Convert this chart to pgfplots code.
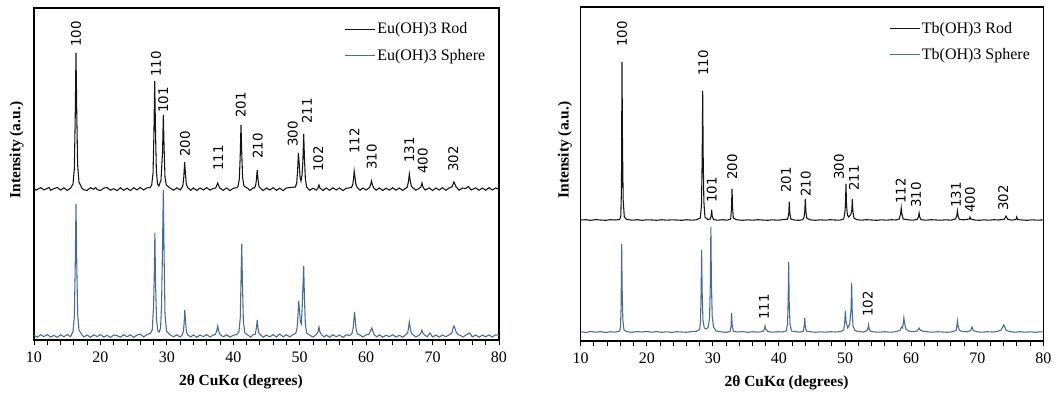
\documentclass[border=0pt]{standalone}
\usepackage{pgfplots}
\pgfplotsset{compat=1.18}
\usepackage{pgfplotstable}
\usepackage{fontspec}
\setmainfont{Liberation Serif}
\newfontfamily\lblfont{DejaVu Sans}
\definecolor{rodc}{RGB}{20,20,20}
\definecolor{sphc}{RGB}{68,106,160}

\pgfplotstableread{
x y
10.0 0.8
10.3 -1.2
10.5 -0.5
11.0 1.4
11.5 -0.9
12.0 0.6
12.3 1.5
12.5 -1.3
13.0 0.3
13.5 1.6
14.0 -1.1
14.5 1.2
15.0 -1.4
15.5 0.9
15.87 5
16.07 20
16.20 68
16.32 136
16.44 75
16.57 24
16.77 7
17.2 1.0
17.5 -0.8
18.0 -1.4
18.5 1.3
19.0 -0.2
19.3 1.5
19.5 -0.6
20.0 -1.5
20.5 0.9
21.0 1.4
21.5 -1.2
22.0 0.3
22.5 -1.6
23.0 1.2
23.5 -1.3
24.0 0.8
24.5 -1.6
25.0 1.2
25.5 -0.9
26.0 1.5
26.5 -1.0
27.0 1.1
27.5 1.6
27.72 4
27.92 16
28.05 54
28.17 108
28.29 58
28.42 18
28.6 5
28.8 3
29.12 9
29.35 37
29.47 74
29.59 40
29.72 12
29.92 4
30.4 1.4
31.0 -1.2
31.5 1.2
32.0 -1.0
32.23 1
32.43 4
32.56 13
32.68 27
32.8 15
32.93 5
33.13 1.5
33.6 -1.3
34.0 1.1
34.5 -1.5
35.0 1.0
35.5 -1.0
36.0 1.4
36.5 -1.2
37.0 0.6
37.35 1
37.65 6
37.95 1
38.5 -1.3
39.0 1.1
39.5 -1.6
40.0 0.8
40.5 1.2
40.71 2.5
40.91 10
41.04 32
41.16 64
41.28 35
41.41 11
41.61 3
42.1 1.0
42.5 -1.4
43.0 1.0
43.15 1
43.35 3
43.48 9
43.6 19
43.72 10
43.85 3
44.05 1
44.5 -1.5
45.0 1.0
45.5 -1.0
46.0 1.3
46.5 -1.3
47.0 0.8
47.5 -1.6
48.0 1.1
48.5 1.4
49.35 2
49.55 6
49.68 18
49.8 36
49.92 26
50.05 12
50.2 8
50.35 14
50.48 28
50.6 55
50.72 30
50.85 10
51.05 2
51.5 -1.4
52.0 0.8
52.5 -1.1
52.75 1
52.9 4
53.05 1
53.5 -1.5
54.0 1.0
54.5 -1.3
55.0 1.2
55.5 -1.0
56.0 1.1
56.5 -1.6
57.0 0.7
57.5 1.2
57.8 1.5
58.0 5
58.1 10
58.2 18
58.32 12
58.45 5
58.65 1.5
59.1 -1.2
59.5 1.0
60.0 -1.0
60.4 0.9
60.55 2
60.7 5
60.8 8
60.92 5
61.1 1.5
61.5 -1.3
62.0 1.1
62.5 -1.5
63.0 0.8
63.5 -1.1
64.0 1.2
64.5 -1.2
65.0 1.0
65.5 -1.4
66.0 1.0
66.2 2
66.38 8
66.5 15
66.62 9
66.8 3
67.05 1
67.5 -1.2
68.0 0.8
68.25 2
68.4 6
68.55 2
68.9 -1.1
69.5 1.1
70.0 -1.5
70.5 1.0
71.0 -1.0
71.5 1.3
72.0 -1.3
72.5 1.0
72.9 2
73.05 4
73.2 7
73.35 5
73.55 2
74.0 -1.2
74.5 1.0
75.0 0.5
75.4 2.5
75.8 -1.0
76.5 1.1
77.0 -1.3
77.5 1.0
78.0 -1.2
78.5 1.3
79.0 -1.0
79.5 1.1
80.0 -0.5
}\EuRod

\pgfplotstableread{
x y
10.0 0.8
10.5 -1.2
11.0 1.3
11.5 -0.6
12.0 1.5
12.5 -1.1
13.0 0.6
13.5 -1.4
14.0 1.2
14.5 -0.8
15.0 1.4
15.5 -0.7
15.87 4.5
16.07 19
16.2 66
16.32 132
16.44 72
16.57 22
16.77 6
17.2 1.4
17.5 -0.9
18.0 1.0
18.5 -1.3
19.0 1.2
19.5 -0.6
20.0 1.5
20.5 -1.1
21.0 0.7
21.5 -1.5
22.0 1.0
22.5 0.4
23.0 -1.2
23.5 1.3
24.0 -0.8
24.5 1.2
25.0 -1.4
25.5 0.9
26.0 1.8
26.5 -0.9
27.0 1.4
27.5 2.5
27.8 6
28.0 30
28.1 60
28.2 103
28.3 52
28.45 16
28.65 5
28.85 4
29.05 8
29.2 30
29.35 90
29.47 146
29.59 78
29.72 22
29.95 5
30.4 1.6
31.0 -0.8
31.5 1.2
32.0 -1.0
32.3 1
32.5 5
32.6 13
32.7 26
32.82 14
32.95 4
33.15 1
33.6 -0.9
34.0 1.2
34.5 -1.3
35.0 0.9
35.5 -0.6
36.0 1.4
36.5 -1.0
37.0 1.0
37.3 1.5
37.5 5
37.65 10
37.8 5
38.0 1.5
38.5 -0.8
39.0 1.2
39.5 -1.2
40.0 0.8
40.5 1.4
40.85 4
41.05 18
41.15 50
41.27 92
41.39 50
41.52 14
41.75 3
42.2 1.0
42.6 -1.2
43.0 1.3
43.3 1.5
43.48 8
43.6 16
43.72 8
43.9 2
44.2 0.6
44.5 -1.3
45.0 1.0
45.5 -0.9
46.0 1.4
46.5 -1.0
47.0 2.0
47.5 -0.8
48.0 1.2
48.5 -0.9
49.0 1.4
49.4 2.5
49.6 8
49.73 20
49.85 35
49.97 25
50.1 14
50.25 12
50.38 30
50.48 48
50.6 70
50.72 36
50.85 12
51.05 3
51.5 0.9
52.0 -1.0
52.5 1.4
52.75 4
52.9 9
53.05 4
53.3 1.2
53.7 -0.9
54.0 1.0
54.5 -1.3
55.0 1.2
55.5 -0.7
56.0 0.9
56.5 -1.4
57.0 1.2
57.5 0.6
57.85 2
58.05 8
58.15 16
58.25 24
58.37 16
58.5 6
58.7 2
59.1 0.9
59.5 -1.0
60.0 1.2
60.4 1.5
60.65 5
60.85 8
61.0 5
61.2 1.5
61.6 -0.9
62.0 1.2
62.5 -1.2
63.0 0.8
63.5 -0.7
64.0 1.3
64.5 -1.0
65.0 0.7
65.5 -1.2
66.0 1.4
66.25 3
66.38 8
66.5 14
66.62 9
66.8 3
67.1 1
67.5 -0.9
68.0 1.0
68.25 3
68.4 6
68.55 3
68.8 1.0
69.2 -0.7
69.6 3
70.0 -1.0
70.5 0.9
71.0 -1.2
71.5 1.0
72.0 -0.7
72.5 1.2
72.9 3
73.05 7
73.2 10
73.35 8
73.55 4
73.8 1.5
74.2 0.6
74.6 -1.0
75.0 0.9
75.6 3
76.0 -0.9
76.5 1.0
77.0 -1.2
77.5 0.9
78.0 -0.7
78.5 1.0
79.0 -1.0
79.5 1.2
80.0 0.4
}\EuSph

\pgfplotstableread{
x y
10.0 0
10.8 0.3
11.5 -0.3
12.3 0.4
13.0 0
13.8 -0.3
14.5 0.3
15.2 0
15.9 0.5
16.07 4
16.17 30
16.25 158
16.33 75
16.43 20
16.6 3
17.0 0.5
17.8 -0.2
18.5 0.3
19.3 -0.3
20.0 0.2
20.8 0
21.5 -0.3
22.3 0.3
23.0 -0.2
23.8 0.2
24.5 0
25.3 -0.3
26.0 0.3
26.8 -0.2
27.5 0.2
28.1 2
28.28 15
28.38 60
28.46 129
28.54 62
28.64 18
28.8 3
29.2 0.5
29.6 1
29.74 4
29.82 10
29.9 4
30.1 0.5
30.7 -0.2
31.5 0.3
32.2 -0.2
32.7 1
32.82 12
32.9 31
32.98 13
33.1 2
33.6 0.2
34.5 -0.3
35.3 0.2
36.0 -0.2
36.8 0.3
37.5 0
38.3 -0.3
39.0 0.2
39.8 -0.2
40.5 0.3
41.3 0.8
41.48 6
41.56 18
41.64 7
41.8 1
42.3 0
43.0 -0.3
43.6 0.3
43.8 3
43.91 9
43.99 21
44.07 9
44.2 2
44.7 0.2
45.5 -0.3
46.2 0.2
47.0 -0.2
47.7 0.3
48.5 0
49.2 -0.2
49.8 1
49.98 8
50.06 16
50.14 36
50.22 15
50.35 5
50.55 3
50.9 6
51.02 10
51.1 21
51.18 9
51.35 2
51.8 0.3
52.5 -0.2
53.2 0.3
54.0 0
54.8 -0.3
55.5 0.2
56.3 -0.2
57.0 0.3
57.7 0
58.2 1
58.4 6
58.5 12
58.6 6
58.8 1
59.4 0.3
60.2 -0.2
60.9 0.5
61.1 3
61.2 7
61.3 3
61.5 0.3
62.3 -0.2
63.0 0.3
63.8 0
64.5 -0.2
65.3 0.2
66.0 -0.2
66.7 1
66.9 4
67.0 9
67.1 4
67.3 0.5
68.0 0.2
68.8 1
68.9 3
69.0 1
69.6 0
70.3 -0.3
71.0 0.2
71.8 -0.2
72.5 0.3
73.3 0
74.1 0.8
74.35 4
74.6 0.8
75.2 -0.2
75.85 0.5
75.97 3
76.1 0.5
76.8 0
77.5 -0.3
78.3 0.2
79.0 -0.2
80.0 0.1
}\TbRod

\pgfplotstableread{
x y
10.0 0.2
10.8 -0.4
11.5 0.5
12.3 -0.2
13.0 0.4
13.8 -0.5
14.5 0.3
15.2 -0.2
15.9 1
16.02 5
16.12 25
16.2 88
16.28 42
16.38 12
16.55 2
17.0 0.3
17.8 -0.3
18.5 0.4
19.3 0
20.0 0.5
20.8 -0.2
21.5 0.4
22.3 -0.3
23.0 0.2
23.8 -0.4
24.5 0.3
25.3 0
26.0 -0.3
26.8 0.4
27.5 0.6
28.0 2.5
28.13 10
28.22 40
28.3 82
28.38 40
28.5 12
28.7 4
29.0 3
29.3 5
29.5 14
29.62 50
29.7 105
29.78 50
29.9 16
30.1 5
30.5 1
31.2 0.2
32.0 -0.3
32.6 0.5
32.76 6
32.84 19
32.92 7
33.1 0.5
33.8 0
34.5 0.4
35.3 -0.3
36.0 0.3
36.8 -0.2
37.6 0.6
37.8 3
37.9 6
38.0 3
38.3 0.5
39.0 -0.2
39.8 0.3
40.5 0
41.1 1
41.3 8
41.39 30
41.47 70
41.55 30
41.67 8
41.9 1
42.5 0.3
43.2 -0.2
43.7 0.8
43.82 6
43.9 14
43.98 6
44.15 0.8
44.8 0.3
45.5 -0.3
46.3 0.2
47.0 -0.2
47.8 0.3
48.5 0
49.3 0.4
49.8 2
49.95 10
50.05 21
50.15 10
50.4 4
50.7 8
50.9 22
51.0 49
51.08 22
51.2 6
51.5 1.5
52.0 0.5
52.8 0
53.35 1.5
53.48 4
53.55 7
53.65 3
53.9 0.5
54.6 0
55.3 -0.2
56.0 0.3
56.8 -0.2
57.6 0.2
58.3 1.5
58.55 5
58.7 4
58.82 9
58.9 14
59.0 9
59.2 3
59.6 1
60.2 0.3
60.9 1
61.1 3
61.2 4
61.35 2
61.8 0.8
62.5 0.2
63.3 -0.2
64.0 0.3
64.8 0
65.5 -0.3
66.2 0.3
66.8 1.5
66.92 6
67.0 11
67.1 6
67.3 1.5
67.8 0.5
68.5 0.2
69.0 1.5
69.2 5
69.4 1.5
70.0 0.2
70.8 -0.2
71.5 0.3
72.3 0
73.0 0.4
73.6 2
73.85 5
74.0 7
74.15 5
74.4 1.5
75.0 0.3
75.8 -0.2
76.5 0.3
77.3 -0.2
78.0 0.2
78.8 -0.3
79.5 0.2
80.0 0
}\TbSph

\tikzset{hkl/.style={rotate=90, anchor=west, inner sep=0pt,
      font=\lblfont\fontsize{10}{12}\selectfont}}

\pgfplotsset{
  xrdaxis/.style={
    scale only axis,
    anchor=south west,
    xmin=10, xmax=80, ymin=0,
    xtick={10,20,...,80},
    minor x tick num=4,
    ytick=\empty,
    xtick pos=bottom,
    tick align=outside,
    major tick length=4pt,
    minor tick length=4pt,
    every tick/.style={black, line width=0.7pt},
    axis line style={line width=1.1pt},
    /pgf/number format/assume math mode=true,
    xticklabel style={font=\fontsize{12}{14}\selectfont, yshift=-1.5pt},
    xlabel={\textbf{2θ CuKα (degrees)}},
    ylabel={\textbf{Intensity (a.u.)}},
    label style={font=\fontsize{11.6}{13}\selectfont},
    legend cell align=left,
    legend style={draw=none, fill=none, inner sep=0pt,
      font=\fontsize{12}{14}\selectfont, row sep=8pt,
      nodes={inner sep=1pt}},
    legend image code/.code={\draw[#1] (0pt,0pt) -- (22.5pt,0pt);},
  }
}

\begin{document}
\begin{tikzpicture}
\path[use as bounding box] (0pt,0pt) rectangle (792pt,-300pt);
% ---------------- left panel ----------------
\begin{axis}[xrdaxis,
  at={(25.5pt,-255pt)}, width=348.75pt, height=249pt, ymax=332,
  xlabel style={at={(axis description cs:0.445,-0.126)}, anchor=center},
  ylabel style={at={(axis description cs:-0.037,0.572)}, anchor=center},
  legend style={at={(axis description cs:0.668,0.96)}, anchor=north west}]
\addplot[rodc, line width=0.8pt] table[x=x, y expr=\thisrow{y}+151] {\EuRod};
\addlegendentry{Eu(OH)3 Rod}
\addplot[sphc, line width=0.8pt] table[x=x, y expr=\thisrow{y}+4] {\EuSph};
\addlegendentry{Eu(OH)3 Sphere}
\node[hkl] at (axis cs:16.32,293) {100};
\node[hkl] at (axis cs:28.37,263) {110};
\node[hkl] at (axis cs:29.46,227) {101};
\node[hkl] at (axis cs:32.73,183) {200};
\node[hkl] at (axis cs:37.74,169) {111};
\node[hkl] at (axis cs:41.11,222) {201};
\node[hkl] at (axis cs:43.67,181) {210};
\node[hkl] at (axis cs:48.94,193) {300};
\node[hkl] at (axis cs:51.10,216) {211};
\node[hkl] at (axis cs:52.80,168) {102};
\node[hkl] at (axis cs:58.22,186) {112};
\node[hkl] at (axis cs:60.84,170) {310};
\node[hkl] at (axis cs:66.50,177) {131};
\node[hkl] at (axis cs:68.51,166) {400};
\node[hkl] at (axis cs:73.12,168) {302};
\end{axis}
% ---------------- right panel ----------------
\begin{axis}[xrdaxis,
  at={(435.5pt,-255.75pt)}, width=347pt, height=250.5pt, ymax=334,
  xlabel style={at={(axis description cs:0.445,-0.125)}, anchor=center},
  ylabel style={at={(axis description cs:-0.034,0.572)}, anchor=center},
  legend style={at={(axis description cs:0.667,0.96)}, anchor=north west}]
\addplot[rodc, line width=0.8pt] table[x=x, y expr=\thisrow{y}+121] {\TbRod};
\addlegendentry{Tb(OH)3 Rod}
\addplot[sphc, line width=0.8pt] table[x=x, y expr=\thisrow{y}+9] {\TbSph};
\addlegendentry{Tb(OH)3 Sphere}
\node[hkl] at (axis cs:16.25,294) {100};
\node[hkl] at (axis cs:28.55,265) {110};
\node[hkl] at (axis cs:29.82,138) {101};
\node[hkl] at (axis cs:32.94,161) {200};
\node[hkl] at (axis cs:41.06,148) {201};
\node[hkl] at (axis cs:44.04,144) {210};
\node[hkl] at (axis cs:49.08,161) {300};
\node[hkl] at (axis cs:51.35,150) {211};
\node[hkl] at (axis cs:58.42,137) {112};
\node[hkl] at (axis cs:60.73,133) {310};
\node[hkl] at (axis cs:66.79,133) {131};
\node[hkl] at (axis cs:68.90,128) {400};
\node[hkl] at (axis cs:73.94,130) {302};
\node[hkl] at (axis cs:37.73,21) {111};
\node[hkl] at (axis cs:53.43,24) {102};
\end{axis}
\end{tikzpicture}
\end{document}
